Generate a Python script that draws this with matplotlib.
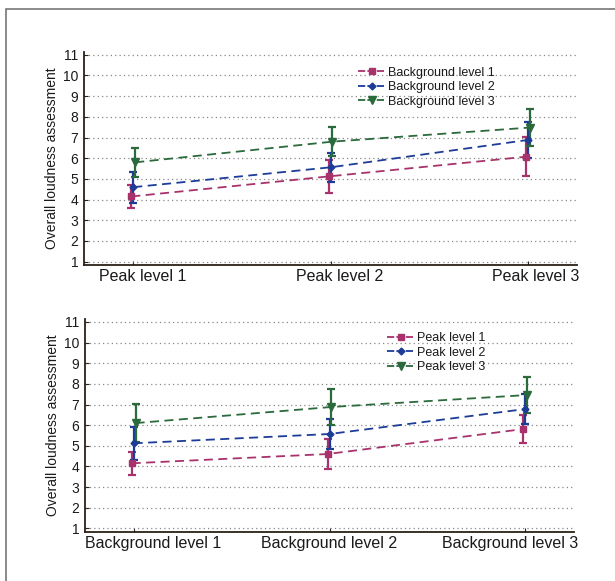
import matplotlib
matplotlib.use("Agg")
import matplotlib.pyplot as plt
from matplotlib.patches import Rectangle
from matplotlib.lines import Line2D
from matplotlib.transforms import ScaledTranslation
import numpy as np

plt.rcParams['font.family'] = ['Liberation Sans', 'DejaVu Sans']

# Top panel: x = peak level, series = background level
top_cats = ["Peak level 1", "Peak level 2", "Peak level 3"]
top_series = ["Background level 1", "Background level 2", "Background level 3"]
top_means = [[4.15, 5.12, 6.07],
             [4.60, 5.56, 6.88],
             [5.80, 6.80, 7.48]]
top_err = [[0.57, 0.80, 0.95],
           [0.75, 0.71, 0.88],
           [0.70, 0.70, 0.88]]

# Bottom panel: x = background level, series = peak level
bot_cats = ["Background level 1", "Background level 2", "Background level 3"]
bot_series = ["Peak level 1", "Peak level 2", "Peak level 3"]
bot_means = [[4.15, 4.60, 5.81],
             [5.12, 5.57, 6.78],
             [6.10, 6.88, 7.46]]
bot_err = [[0.57, 0.75, 0.70],
           [0.80, 0.71, 0.71],
           [0.92, 0.87, 0.88]]

yticks = list(range(1, 12))
colors = ["#a8326c", "#1c3c98", "#2b6a3c"]
markers = ["s", "D", "v"]
msizes = [5, 3.5, 6]
offsets = [-0.01, 0.0, 0.01]
axis_col = "#2b2118"

fig = plt.figure(figsize=(6.15, 5.81), dpi=100)
fig.patches.append(Rectangle((6/615, -0.01), 1.0, 1 - 9/581 + 0.01,
                             transform=fig.transFigure, fill=False,
                             edgecolor="#777777", linewidth=1.2))


def draw(ax, cats, series, means, errs, ylim, label_dx, leg_anchor):
    x = np.arange(1, len(cats) + 1)
    handles = []
    for i, name in enumerate(series):
        ax.errorbar(x + offsets[i], means[i], yerr=errs[i], color=colors[i],
                    marker=markers[i], markersize=msizes[i], linestyle=(0, (5, 3)),
                    linewidth=1.3, capsize=2.8, elinewidth=1.6, capthick=1.6)
        handles.append(Line2D([], [], color=colors[i], marker=markers[i],
                              markersize=msizes[i], linestyle=(0, (4, 1.2)),
                              linewidth=1.3, label=name))
    ax.set_xlim(0.75, 3.25)
    ax.set_ylim(*ylim)
    ax.set_xticks(x)
    ax.set_xticklabels([])
    base = ax.get_xaxis_transform()
    for xi, cat, dx in zip(x, cats, label_dx):
        tr = base + ScaledTranslation(dx / 100, -4 / 100, fig.dpi_scale_trans)
        ax.text(xi, 0, cat, transform=tr, ha="center", va="top",
                fontsize=11.5, color="#1a1a1a")
    ax.set_yticks(yticks)
    ax.set_yticklabels([str(t) for t in yticks], fontsize=10, color="#1a1a1a")
    ax.set_ylabel("Overall loudness assessment", fontsize=10, color="#1a1a1a", labelpad=3)
    ax.yaxis.grid(True, linestyle=(0, (1, 2.5)), color="#888888", linewidth=0.9)
    ax.set_axisbelow(True)
    for s in ["top", "right"]:
        ax.spines[s].set_visible(False)
    for s in ["left", "bottom"]:
        ax.spines[s].set_color(axis_col)
        ax.spines[s].set_linewidth(1.3)
    ax.tick_params(axis="both", direction="in", length=3, width=0.8, color=axis_col, pad=3)
    ax.tick_params(axis="y", pad=4)
    leg = ax.legend(handles=handles, loc="upper left", bbox_to_anchor=leg_anchor, fontsize=9,
                    frameon=False, handlelength=2.2, handletextpad=0.2,
                    labelspacing=0.2, borderaxespad=0)
    for t in leg.get_texts():
        t.set_color("#1a1a1a")


ax1 = fig.add_axes([84/615, 1 - 265/581, (577-84)/615, (265-51.5)/581])
draw(ax1, top_cats, top_series, top_means, top_err, (0.84, 11.155),
     [9, 9, 8], (0.546, 0.952))

ax2 = fig.add_axes([84.7/615, 1 - 532/581, (574.3-84.7)/615, (532-319.3)/581])
draw(ax2, bot_cats, bot_series, bot_means, bot_err, (0.82, 11.13),
     [19, 0, -15], (0.607, 0.963))

fig.savefig("out.png", dpi=100)
